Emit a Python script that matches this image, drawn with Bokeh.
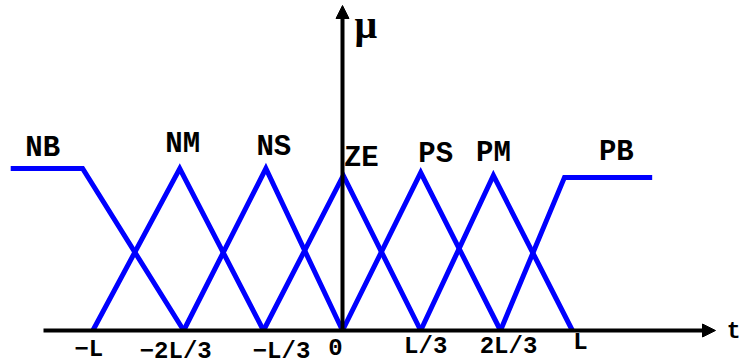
from bokeh.plotting import figure
from bokeh.models import Range1d, Arrow, NormalHead
from bokeh.core.properties import value
from bokeh.embed import file_html
from bokeh.resources import INLINE

# ---------------- data (x in units of L/3, y = membership) ----------------
set_names = ["NB", "NM", "NS", "ZE", "PS", "PM", "PB"]
nb_x = [-4.2, -3.29, -2.01]
nb_y = [1.0, 1.0, 0.0]
nm_x = [-3.16, -2.06, -1.0]
nm_y = [0.0, 1.0, 0.0]
ns_x = [-2.01, -0.97, 0.0]
ns_y = [0.0, 1.0, 0.0]
ze_x = [-1.0, 0.01, 0.99]
ze_y = [0.0, 0.957, 0.0]
ps_x = [0.0, 0.99, 2.0]
ps_y = [0.0, 0.975, 0.0]
pm_x = [0.99, 1.91, 2.91]
pm_y = [0.0, 0.957, 0.0]
pb_x = [2.0, 2.81, 3.92]
pb_y = [0.0, 0.945, 0.945]

tick_pos = [-3.16, -2.01, -1.0, 0.0, 0.99, 2.0, 2.91]
tick_labels = ["\u2212L", "\u22122L/3", "\u2212L/3", "0", "L/3", "2L/3", "L"]

# ---------------- layout ----------------
FIG_W, FIG_H = 743, 364
PPX, PPY = 79.0, 162.0          # pixels per data unit
OX, OY = 342.0, 330.0           # origin in figure pixels (from top-left)

def dx(px):
    return px / PPX

def dy(px):  # px measured downward on screen
    return -px / PPY

p = figure(width=FIG_W, height=FIG_H, output_backend="svg", toolbar_location=None,
           x_axis_type=None, y_axis_type=None,
           x_range=Range1d(-OX / PPX, (FIG_W - OX) / PPX),
           y_range=Range1d(-(FIG_H - OY) / PPY, OY / PPY),
           min_border=0, outline_line_color=None, background_fill_color="white",
           border_fill_color="white")

BLUE = "#0000ff"
series = [(nb_x, nb_y), (nm_x, nm_y), (ns_x, ns_y), (ze_x, ze_y),
          (ps_x, ps_y), (pm_x, pm_y), (pb_x, pb_y)]

# axes
x_axis_start, x_axis_end = dx(-299), dx(373)
y_axis_top = dy(-325)
p.add_layout(Arrow(end=NormalHead(size=13, fill_color="black", line_color="black"),
                   x_start=x_axis_start, y_start=0, x_end=x_axis_end, y_end=0,
                   line_width=4, line_color="black"))
p.add_layout(Arrow(end=NormalHead(size=13, fill_color="black", line_color="black"),
                   x_start=0, y_start=0, x_end=0, y_end=y_axis_top,
                   line_width=4, line_color="black"))

for xs, ys in series:
    p.line(xs, ys, line_color=BLUE, line_width=5, line_join="miter")

# set labels positioned relative to each set's top
label_off = [(-4, -20), (3, -24), (8, -21), (18, -17), (15, -18), (0, -22), (8, -25)]
lx, ly = [], []
for (xs, ys), (ox, oy) in zip(series, label_off):
    m = max(ys)
    pts = [x for x, y in zip(xs, ys) if y == m]
    lx.append(sum(pts) / len(pts) + dx(ox))
    ly.append(m + dy(oy))
p.text(x=lx, y=ly, text=set_names, text_font=value("Liberation Mono"),
       text_font_style="bold", text_font_size="29px", text_align="center",
       text_baseline="alphabetic", text_color="black")

# tick labels
tick_off = [(-4, 19), (-8, 21), (18, 21), (-7, 16), (5, 16), (8, 16), (8, 12)]
tx = [t + dx(o[0]) for t, o in zip(tick_pos, tick_off)]
ty = [dy(o[1]) for o in tick_off]
p.text(x=tx, y=ty, text=tick_labels, text_font=value("Liberation Mono"),
       text_font_style="bold", text_font_size="24px", text_align="center",
       text_baseline="alphabetic", text_color="black")

# axis names
p.text(x=[x_axis_end + dx(25)], y=[dy(1)], text=["t"], text_font=value("Liberation Mono"),
       text_font_style="bold", text_font_size="23px", text_align="right",
       text_baseline="alphabetic", text_color="black")
p.text(x=[dx(12)], y=[dy(-329)], text=["\u03bc"], text_font=value("Liberation Serif"),
       text_font_style="bold", text_font_size="40px", text_align="left",
       text_baseline="top", text_color="black")

open("out.html", "w").write(file_html(p, INLINE))
